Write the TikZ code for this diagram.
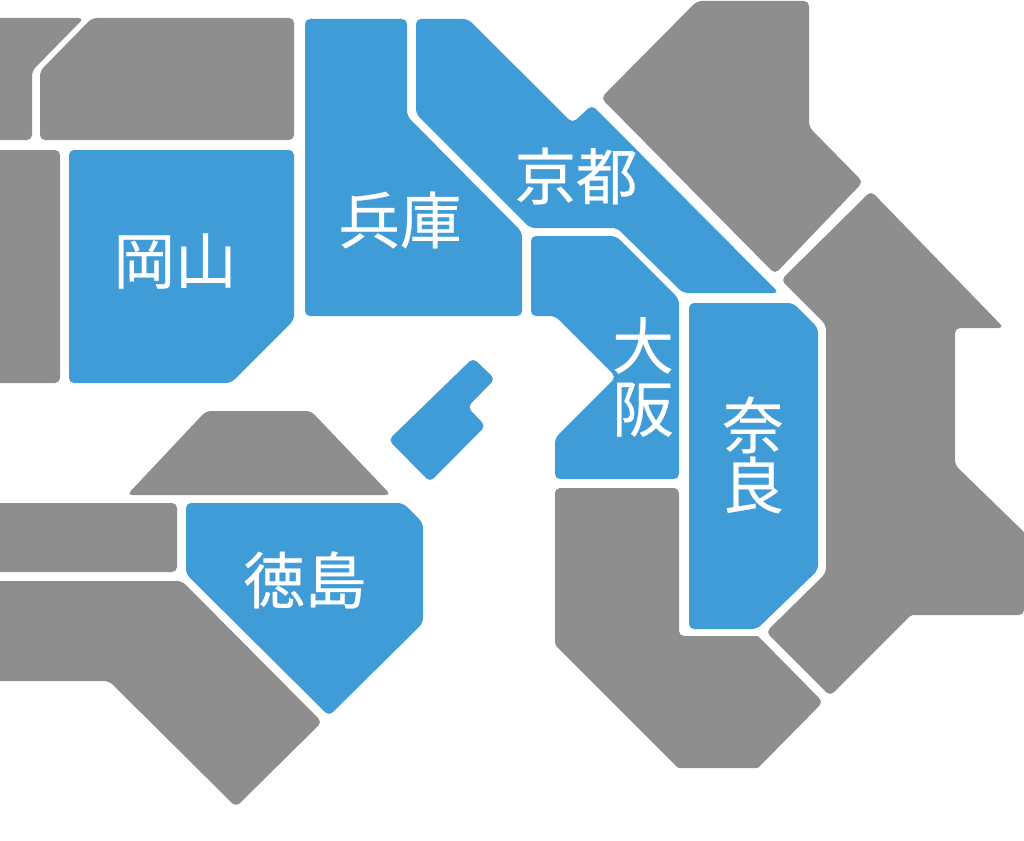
\documentclass[tikz,border=0pt]{standalone}
\usepackage{fontspec}
\newfontfamily\cjk[FakeBold=0.4]{Noto Sans CJK JP}
\definecolor{pref}{HTML}{409CD7}
\definecolor{other}{HTML}{8E8E8E}
\tikzset{
  blueregion/.style={fill=pref,rounded corners=5pt},
  grayregion/.style={fill=other,rounded corners=5pt},
  preflabel/.style={text=white,font=\cjk\fontsize{61.5}{60}\selectfont,inner sep=0pt,align=center}
}
\begin{document}
\begin{tikzpicture}[x=1pt,y=-1pt]
\useasboundingbox (0,0) rectangle (1024,840);
\begin{scope}
\clip (0,0) rectangle (1024,840);
\fill[grayregion] (-10,18) -- (84,18) -- (32,71) -- (32,140) -- (-10,140) -- cycle;
\fill[grayregion] (92,18) -- (294,18) -- (294,140) -- (40,140) -- (40,71) -- cycle;
\fill[grayregion] (-10,150) -- (60,150) -- (60,383) -- (-10,383) -- cycle;
\fill[grayregion] (697,1) -- (809,1) -- (809,127) -- (863,182) -- (775,274) -- (601,98) -- cycle;
\fill[grayregion] (871,191) -- (1004,328) -- (955,328) -- (955,465) -- (1026,534) [rounded corners=5pt] -- (1024,615) [rounded corners=2pt] -- (911,615) [rounded corners=5pt] -- (830,696) -- (766,632) -- (826,573) -- (826,325) -- (781,280) -- cycle;
\fill[grayregion] (555,488) -- (679,488) -- (679,636) [rounded corners=1pt] -- (758,636) [rounded corners=5pt] -- (823,702) [rounded corners=1pt] -- (758,768) -- (678,768) [rounded corners=3pt] -- (555,645) [rounded corners=5pt] -- cycle;
\fill[blueregion] (473,358) -- (495,379) -- (467.5,407) -- (485.5,426) -- (430,482) -- (388.5,440) -- cycle;
\fill[grayregion] (206,411) -- (311,411) -- (391,495) -- (127,495) -- cycle;
\fill[grayregion] (-10,503) -- (177,503) -- (177,572) -- (-10,572) -- cycle;
\fill[grayregion] (-10,581) -- (182,581) -- (322,722) -- (236,807) -- (109,681) -- (-10,681) -- cycle;
\fill[blueregion] (69,150) -- (294,150) -- (294,320) -- (231,383) -- (69,383) -- cycle;
\fill[blueregion] (305,19) -- (407,19) -- (407,116) -- (522,232) -- (522,316) -- (305,316) -- cycle;
\fill[blueregion] (416,19) -- (468,19) -- (572.5,123) -- (592,105) -- (779,293) -- (683,293) -- (617,228) -- (530,228) -- (416,114) -- cycle;
\fill[blueregion] (531,236) -- (616,236) -- (679,299) -- (679,479) -- (555,479) -- (555,438) -- (616,377) -- (555,316) -- (531,316) -- cycle;
\fill[blueregion] (689,303) -- (793,303) -- (818,328) -- (818,570) -- (757,629) -- (689,629) -- cycle;
\fill[blueregion] (186,503) -- (403,503) -- (423,523) -- (423,623) -- (329,716) -- (186,574) -- cycle;
\end{scope}
\node[preflabel] (okayama) at (175,261) {岡山};
\node[preflabel] (hyogo) at (400,220) {兵庫};
\node[preflabel] (kyoto) at (576,176) {京都};
\node[preflabel] (osaka) at (643,377) {大\\[3pt]阪};
\node[preflabel] (nara) at (753,455) {奈\\良};
\node[preflabel] (tokushima) at (305,580) {徳島};
\end{tikzpicture}
\end{document}
